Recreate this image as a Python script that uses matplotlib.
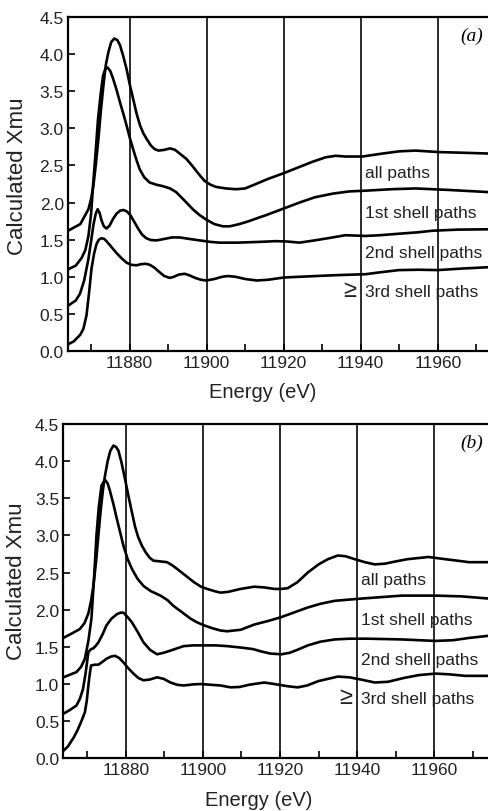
import matplotlib
matplotlib.use("Agg")
import matplotlib.pyplot as plt
from matplotlib.ticker import MultipleLocator, FormatStrFormatter

plt.rcParams['font.family'] = ['Liberation Sans', 'DejaVu Sans']

# ---------------- panel (a) ----------------
a_all_E = [11864.0, 11867.2, 11869.3, 11870.0, 11870.6, 11871.2, 11871.9, 11872.5, 11873.2, 11873.8,
           11874.5, 11875.2, 11876.0, 11876.8, 11877.5, 11878.3, 11879.2, 11880.0, 11880.9, 11881.8,
           11882.7, 11883.6, 11884.5, 11885.5, 11886.5, 11887.5, 11889.0, 11890.5, 11891.8, 11893.0,
           11894.7, 11896.5, 11898.0, 11899.5, 11901.0, 11902.5, 11905.0, 11907.6, 11910.0, 11913.7,
           11916.0, 11919.7, 11924.1, 11927.5, 11930.9, 11933.5, 11936.1, 11940.4, 11945.6, 11950.0,
           11954.2, 11960.3, 11967.2, 11973.5]
a_all_v = [1.62, 1.71, 1.91, 2.05, 2.23, 2.50, 2.86, 3.22, 3.58, 3.85,
           4.03, 4.16, 4.21, 4.19, 4.12, 3.98, 3.80, 3.60, 3.40, 3.20,
           3.04, 2.93, 2.85, 2.77, 2.72, 2.70, 2.71, 2.73, 2.71, 2.66,
           2.59, 2.48, 2.38, 2.29, 2.24, 2.21, 2.19, 2.18, 2.19, 2.27,
           2.32, 2.39, 2.48, 2.55, 2.61, 2.63, 2.62, 2.62, 2.66, 2.69,
           2.70, 2.68, 2.67, 2.66]

a_1st_E = [11864.0, 11866.0, 11867.5, 11868.5, 11869.3, 11870.0, 11870.5, 11871.2, 11871.8, 11872.5,
           11873.1, 11873.7, 11874.3, 11875.0, 11875.7, 11876.6, 11877.5, 11878.4, 11879.2, 11880.0,
           11880.9, 11881.8, 11882.6, 11883.8, 11885.2, 11887.0, 11888.7, 11890.5, 11892.1, 11894.0,
           11896.4, 11898.2, 11899.9, 11902.0, 11904.2, 11906.0, 11908.5, 11911.0, 11913.7, 11915.4,
           11920.0, 11924.1, 11928.0, 11932.7, 11937.0, 11941.3, 11948.0, 11954.2, 11962.8, 11973.5]
a_1st_v = [1.10, 1.15, 1.25, 1.36, 1.55, 1.85, 2.23, 2.70, 3.13, 3.47,
           3.71, 3.80, 3.82, 3.77, 3.67, 3.52, 3.35, 3.19, 3.04, 2.88,
           2.72, 2.57, 2.45, 2.34, 2.27, 2.24, 2.22, 2.19, 2.14, 2.04,
           1.91, 1.83, 1.77, 1.71, 1.68, 1.68, 1.71, 1.75, 1.80, 1.83,
           1.92, 2.00, 2.07, 2.12, 2.15, 2.16, 2.18, 2.19, 2.17, 2.14]

a_2nd_E = [11864.0, 11866.0, 11867.1, 11868.2, 11869.3, 11870.0, 11870.6, 11871.2, 11871.7, 11872.2,
           11872.7, 11873.3, 11874.0, 11874.8, 11875.7, 11876.6, 11877.5, 11878.4, 11879.3, 11880.2,
           11881.2, 11882.2, 11883.2, 11884.3, 11885.5, 11887.0, 11889.0, 11891.0, 11893.0, 11895.5,
           11898.2, 11901.0, 11903.3, 11908.0, 11913.7, 11918.0, 11921.0, 11924.1, 11928.0, 11932.7,
           11936.0, 11941.3, 11945.0, 11949.9, 11955.0, 11958.5, 11965.0, 11973.5]
a_2nd_v = [0.61, 0.68, 0.77, 0.95, 1.24, 1.48, 1.70, 1.85, 1.91, 1.86,
           1.76, 1.68, 1.65, 1.69, 1.78, 1.85, 1.89, 1.90, 1.88, 1.83,
           1.74, 1.65, 1.57, 1.52, 1.495, 1.49, 1.51, 1.53, 1.53, 1.51,
           1.49, 1.47, 1.46, 1.46, 1.47, 1.48, 1.475, 1.46, 1.49, 1.53,
           1.56, 1.55, 1.56, 1.58, 1.60, 1.62, 1.635, 1.64]

a_3rd_E = [11864.0, 11865.5, 11867.2, 11868.0, 11868.8, 11869.5, 11870.1, 11870.8, 11871.4, 11872.0,
           11872.7, 11873.4, 11874.0, 11875.3, 11876.6, 11877.9, 11879.2, 11880.5, 11881.8, 11883.0,
           11884.2, 11885.3, 11886.5, 11887.8, 11889.0, 11890.4, 11891.5, 11892.8, 11894.3, 11895.5,
           11897.0, 11898.5, 11899.9, 11902.0, 11904.0, 11905.5, 11907.5, 11910.0, 11913.0, 11916.0,
           11920.0, 11924.1, 11932.7, 11941.3, 11945.0, 11949.9, 11955.0, 11960.0, 11966.0, 11973.5]
a_3rd_v = [0.09, 0.13, 0.22, 0.30, 0.48, 0.80, 1.11, 1.32, 1.44, 1.50,
           1.52, 1.51, 1.48, 1.40, 1.32, 1.25, 1.19, 1.16, 1.155, 1.17,
           1.175, 1.16, 1.12, 1.06, 1.01, 0.985, 1.00, 1.03, 1.04, 1.02,
           0.985, 0.96, 0.95, 0.97, 1.00, 1.01, 1.00, 0.97, 0.95, 0.96,
           0.99, 1.00, 1.02, 1.035, 1.06, 1.09, 1.095, 1.09, 1.11, 1.13]

# ---------------- panel (b) ----------------
b_all_E = [11863.8, 11866.0, 11868.1, 11869.3, 11870.3, 11871.0, 11871.6, 11872.3, 11872.9, 11873.5,
           11874.1, 11874.6, 11875.3, 11876.0, 11876.8, 11877.5, 11878.1, 11878.9, 11879.8, 11880.7,
           11881.6, 11882.4, 11883.2, 11884.2, 11885.2, 11886.2, 11887.2, 11889.0, 11890.7, 11892.0,
           11893.3, 11895.5, 11897.7, 11899.5, 11901.1, 11903.0, 11904.6, 11906.5, 11909.8, 11913.3,
           11916.0, 11918.5, 11920.3, 11922.0, 11924.5, 11927.2, 11930.0, 11932.4, 11935.0, 11937.0,
           11939.4, 11942.0, 11944.6, 11947.2, 11950.0, 11953.0, 11958.5, 11962.9, 11966.0, 11969.0,
           11974.2]
b_all_v = [1.62, 1.68, 1.74, 1.82, 1.95, 2.12, 2.32, 2.65, 3.00, 3.34,
           3.62, 3.80, 4.00, 4.14, 4.21, 4.19, 4.14, 3.98, 3.76, 3.53,
           3.31, 3.12, 2.98, 2.86, 2.77, 2.70, 2.66, 2.65, 2.64, 2.60,
           2.55, 2.46, 2.37, 2.31, 2.28, 2.25, 2.23, 2.24, 2.28, 2.31,
           2.30, 2.28, 2.28, 2.29, 2.37, 2.50, 2.61, 2.68, 2.73, 2.72,
           2.68, 2.64, 2.61, 2.62, 2.65, 2.68, 2.71, 2.68, 2.66, 2.64,
           2.64]

b_1st_E = [11863.8, 11867.2, 11868.4, 11869.4, 11870.3, 11871.1, 11871.8, 11872.4, 11873.0, 11873.7,
           11874.6, 11875.3, 11875.9, 11876.8, 11877.7, 11878.6, 11879.4, 11880.5, 11881.6, 11883.0,
           11884.6, 11886.5, 11889.0, 11890.8, 11892.4, 11894.5, 11896.8, 11898.5, 11900.3, 11902.5,
           11904.6, 11906.3, 11909.8, 11913.3, 11917.0, 11920.3, 11924.0, 11927.2, 11930.5, 11934.2,
           11941.1, 11951.6, 11960.3, 11967.0, 11974.2]
b_1st_v = [1.09, 1.16, 1.23, 1.34, 1.58, 1.88, 2.45, 3.00, 3.38, 3.67,
           3.75, 3.70, 3.60, 3.42, 3.22, 3.03, 2.86, 2.68, 2.55, 2.42,
           2.32, 2.25, 2.19, 2.13, 2.05, 1.97, 1.88, 1.83, 1.79, 1.75,
           1.72, 1.71, 1.73, 1.80, 1.85, 1.90, 1.97, 2.03, 2.08, 2.12,
           2.15, 2.19, 2.19, 2.18, 2.15]

b_2nd_E = [11863.8, 11865.5, 11867.2, 11868.1, 11868.9, 11869.6, 11870.3, 11871.0, 11871.6, 11872.3,
           11872.9, 11874.0, 11875.0, 11876.3, 11877.7, 11878.6, 11879.4, 11880.5, 11881.6, 11883.1,
           11884.6, 11886.3, 11888.1, 11889.8, 11891.6, 11893.3, 11895.0, 11897.5, 11900.3, 11903.3,
           11906.3, 11910.0, 11913.0, 11915.0, 11917.5, 11920.3, 11922.5, 11924.5, 11927.2, 11930.5,
           11934.2, 11938.0, 11942.9, 11951.6, 11960.3, 11965.0, 11969.0, 11974.2]
b_2nd_v = [0.60, 0.65, 0.71, 0.80, 0.93, 1.15, 1.43, 1.47, 1.48, 1.52,
           1.56, 1.67, 1.79, 1.88, 1.94, 1.96, 1.96, 1.90, 1.83, 1.70,
           1.56, 1.46, 1.40, 1.42, 1.45, 1.48, 1.51, 1.52, 1.52, 1.52,
           1.51, 1.49, 1.47, 1.44, 1.41, 1.40, 1.42, 1.46, 1.52, 1.57,
           1.60, 1.61, 1.61, 1.60, 1.58, 1.59, 1.62, 1.65]

b_3rd_E = [11863.8, 11865.0, 11866.5, 11867.5, 11868.5, 11869.4, 11869.9, 11870.3, 11870.7, 11871.0,
           11872.0, 11872.9, 11874.0, 11875.0, 11876.2, 11877.2, 11878.3, 11879.4, 11880.7, 11882.0,
           11883.3, 11884.6, 11886.2, 11888.1, 11889.8, 11891.6, 11893.3, 11895.0, 11897.5, 11899.4,
           11902.0, 11904.6, 11907.2, 11909.5, 11912.0, 11915.9, 11918.5, 11922.0, 11924.6, 11927.0,
           11930.0, 11935.0, 11938.0, 11941.0, 11944.6, 11948.0, 11952.0, 11956.0, 11960.3, 11964.0,
           11968.0, 11974.2]
b_3rd_v = [0.10, 0.16, 0.28, 0.38, 0.50, 0.62, 0.78, 0.98, 1.15, 1.25,
           1.26, 1.26, 1.30, 1.34, 1.37, 1.38, 1.35, 1.29, 1.21, 1.14,
           1.08, 1.05, 1.06, 1.09, 1.07, 1.02, 0.99, 0.98, 0.995, 1.00,
           0.99, 0.98, 0.955, 0.96, 0.99, 1.02, 1.00, 0.97, 0.955, 0.98,
           1.04, 1.10, 1.09, 1.06, 1.02, 1.03, 1.08, 1.12, 1.14, 1.13,
           1.11, 1.11]

labels = ["all paths", "1st shell paths", "2nd shell paths", "3rd shell paths"]
label_y = [2.41, 1.87, 1.33, 0.80]
label_x = 11941.0
geq_x = 11935.4
x_major = [11880, 11900, 11920, 11940, 11960]
y_ticks = [0.0, 0.5, 1.0, 1.5, 2.0, 2.5, 3.0, 3.5, 4.0, 4.5]

W, H = 489, 812
fig = plt.figure(figsize=(W / 100, H / 100), dpi=100)

panels = [
    dict(rect=[68 / W, 1 - 352 / H, (W - 68) / W, 334 / H], xlim=(11864.0, 11973.3), tag="(a)",
         series=[(a_all_E, a_all_v), (a_1st_E, a_1st_v), (a_2nd_E, a_2nd_v), (a_3rd_E, a_3rd_v)],
         xlab=(0.463, -0.094), ylab=(-0.095, 0.527)),
    dict(rect=[63.3 / W, 1 - 759.3 / H, (W - 63.3) / W, 334.3 / H], xlim=(11863.8, 11974.2), tag="(b)",
         series=[(b_all_E, b_all_v), (b_1st_E, b_1st_v), (b_2nd_E, b_2nd_v), (b_3rd_E, b_3rd_v)],
         xlab=(0.458, -0.094), ylab=(-0.085, 0.533)),
]

for p in panels:
    ax = fig.add_axes(p["rect"])
    ax.set_xlim(*p["xlim"])
    ax.set_ylim(0, 4.5)
    for E, v in p["series"]:
        ax.plot(E, v, color="black", lw=1.9, solid_joinstyle="round", solid_capstyle="round", zorder=3)
    ax.set_xticks(x_major)
    ax.xaxis.set_minor_locator(MultipleLocator(10))
    ax.set_yticks(y_ticks)
    ax.yaxis.set_major_formatter(FormatStrFormatter("%.1f"))
    ax.grid(axis="x", which="major", color="#2b2b2b", lw=1.4, zorder=1)
    ax.tick_params(axis="both", which="both", direction="in", labelsize=12.5, colors="black",
                   top=False, right=False)
    ax.tick_params(axis="x", which="minor", length=5, width=1.2)
    ax.tick_params(axis="x", which="major", length=5, width=1.2, pad=3)
    ax.tick_params(axis="y", which="major", length=5, width=1.2, pad=3)
    for t in ax.get_xticklabels() + ax.get_yticklabels():
        t.set_color("#222222")
    ax.spines["right"].set_visible(False)
    for s in ["left", "bottom", "top"]:
        ax.spines[s].set_linewidth(1.6)
    ax.set_ylabel("Calculated Xmu", fontsize=16, color="#222222")
    ax.yaxis.set_label_coords(*p["ylab"])
    ax.set_xlabel("Energy (eV)", fontsize=14.5, color="#222222")
    ax.xaxis.set_label_coords(*p["xlab"])
    for lab, ly in zip(labels, label_y):
        ax.text(label_x, ly, lab, fontsize=12.5, va="center", ha="left", color="#222222", zorder=4)
    ax.text(geq_x, label_y[3] + 0.02, "≥", fontsize=17, va="center", ha="left", color="#222222",
            zorder=4)
    ax.text(0.985, 0.945, p["tag"], transform=ax.transAxes, fontsize=14, ha="right", va="center",
            family=["Liberation Serif"], style="italic", color="black")

fig.savefig("out.png", dpi=100)
